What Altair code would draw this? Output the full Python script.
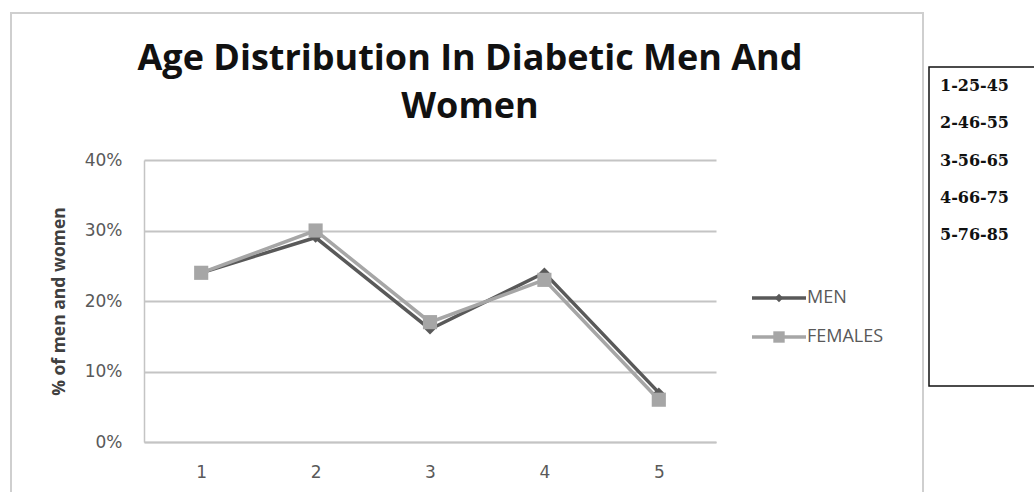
import altair as alt
import pandas as pd

# Age groups on the x axis and the share of patients in each group
groups = ["1", "2", "3", "4", "5"]
men = [0.24, 0.29, 0.16, 0.24, 0.07]
females = [0.24, 0.30, 0.17, 0.23, 0.06]
series_names = ["MEN", "FEMALES"]
series_colors = ["#595959", "#a6a6a6"]
age_bands = ["1-25-45", "2-46-55", "3-56-65", "4-66-75", "5-76-85"]
title_lines = ["Age Distribution In Diabetic Men And", "Women"]
y_ticks = [0.0, 0.1, 0.2, 0.3, 0.4]

# Plot-area geometry (pixels)
LEFT, TOP = 144, 160
PLOT_W, PLOT_H = 572, 282
CANVAS_W, CANVAS_H = 1034, 492

df = pd.DataFrame(
    [{"group": g, "series": "MEN", "value": v} for g, v in zip(groups, men)]
    + [{"group": g, "series": "FEMALES", "value": v} for g, v in zip(groups, females)]
)
legend_df = pd.DataFrame({"series": series_names})
bands_df = pd.DataFrame({"band": age_bands})
one_row = pd.DataFrame({"k": [0]})

color_scale = alt.Scale(domain=series_names, range=series_colors)
LABEL_FONT = "DejaVu Sans"
GRID = "#c4c4c4"

x_enc = alt.X(
    "group:O",
    sort=groups,
    title=None,
    axis=alt.Axis(
        labelAngle=0,
        labelFont=LABEL_FONT,
        labelFontSize=17,
        labelColor="#595959",
        labelPadding=22,
        ticks=False,
        domainColor=GRID,
        domainWidth=1.5,
        grid=False,
    ),
)

y_scale = alt.Scale(domain=[0, 0.4])
y_axis = alt.Axis(
    values=y_ticks,
    format=".0%",
    labelFont=LABEL_FONT,
    labelFontSize=17,
    labelColor="#595959",
    labelPadding=22,
    ticks=False,
    domainColor=GRID,
    domainWidth=1.5,
    gridColor=GRID,
    gridWidth=2,
    title="% of men and women",
    titleFont="Open Sans",
    titleFontSize=17.5,
    titleFontWeight="bold",
    titleColor="#404040",
    titlePadding=16,
)

base = alt.Chart(df)


def series_line(name, with_axis):
    return base.transform_filter(alt.datum.series == name).mark_line(
        strokeWidth=3.5
    ).encode(
        x=x_enc,
        y=alt.Y("value:Q", scale=y_scale, axis=y_axis if with_axis else None),
        color=alt.Color("series:N", scale=color_scale, legend=None),
    )


def series_points(name, shape, size):
    return base.transform_filter(alt.datum.series == name).mark_point(
        shape=shape, filled=True, size=size, opacity=1
    ).encode(
        x=x_enc,
        y=alt.Y("value:Q", scale=y_scale, axis=None),
        color=alt.Color("series:N", scale=color_scale, legend=None),
    )


men_line = series_line("MEN", True)
men_pts = series_points("MEN", "diamond", 110)
fem_line = series_line("FEMALES", False)
fem_pts = series_points("FEMALES", "square", 200)

# Legend beside the plot: short line, marker and label per series
leg_y = alt.Y(
    "series:N",
    scale=alt.Scale(
        type="point", domain=series_names, range=[298 - TOP, 337 - TOP], padding=0
    ),
    axis=None,
)
leg_lines = alt.Chart(legend_df).mark_rule(strokeWidth=3.5).encode(
    x=alt.value(752 - LEFT),
    x2=alt.value(806 - LEFT),
    y=leg_y,
    color=alt.Color("series:N", scale=color_scale, legend=None),
)
leg_marks = alt.Chart(legend_df).mark_point(filled=True, opacity=1).encode(
    x=alt.value(779 - LEFT),
    y=leg_y,
    color=alt.Color("series:N", scale=color_scale, legend=None),
    shape=alt.Shape(
        "series:N",
        scale=alt.Scale(domain=series_names, range=["diamond", "square"]),
        legend=None,
    ),
    size=alt.condition(alt.datum.series == "MEN", alt.value(70), alt.value(130)),
)
leg_text = alt.Chart(legend_df).mark_text(
    align="left", baseline="middle", font="Open Sans", fontSize=18, color="#595959"
).encode(
    x=alt.value(807 - LEFT),
    y=leg_y,
    text="series:N",
)

# Outer chart frame and the boxed age-band key on the right
frame = alt.Chart(one_row).mark_rect(
    fill="transparent", stroke="#cfcfcf", strokeWidth=2
).encode(
    x=alt.value(11 - LEFT),
    x2=alt.value(923 - LEFT),
    y=alt.value(13 - TOP),
    y2=alt.value(CANVAS_H + 10 - TOP),
)
key_box = alt.Chart(one_row).mark_rect(
    fill="white", stroke="#111111", strokeWidth=1.5
).encode(
    x=alt.value(929 - LEFT),
    x2=alt.value(CANVAS_W + 10 - LEFT),
    y=alt.value(67 - TOP),
    y2=alt.value(386 - TOP),
)
key_text = alt.Chart(bands_df).mark_text(
    align="left", baseline="middle", font="DejaVu Serif", fontSize=16,
    fontWeight="bold", color="#111111"
).encode(
    x=alt.value(940 - LEFT),
    y=alt.Y(
        "band:N",
        sort=age_bands,
        scale=alt.Scale(type="point", range=[86 - TOP, 235 - TOP], padding=0),
        axis=None,
    ),
    text="band:N",
)

title = alt.Chart(one_row).mark_text(
    text=title_lines,
    align="center",
    baseline="alphabetic",
    font="Open Sans",
    fontSize=36,
    fontWeight="bold",
    color="#111111",
    lineHeight=48,
).encode(x=alt.value(470 - LEFT), y=alt.value(70 - TOP))

chart = (
    alt.layer(
        frame, key_box, men_line, fem_line, men_pts, fem_pts,
        leg_lines, leg_marks, leg_text, key_text, title,
    )
    .resolve_scale(y="independent")
    .properties(
        width=PLOT_W,
        height=PLOT_H,
        autosize=alt.AutoSizeParams(type="none"),
        padding={
            "left": LEFT,
            "top": TOP,
            "right": CANVAS_W - LEFT - PLOT_W,
            "bottom": CANVAS_H - TOP - PLOT_H,
        },
        background="white",
    )
    .configure_view(stroke=None)
)

chart.save("out.html", embed_options={"renderer": "svg", "actions": False})
